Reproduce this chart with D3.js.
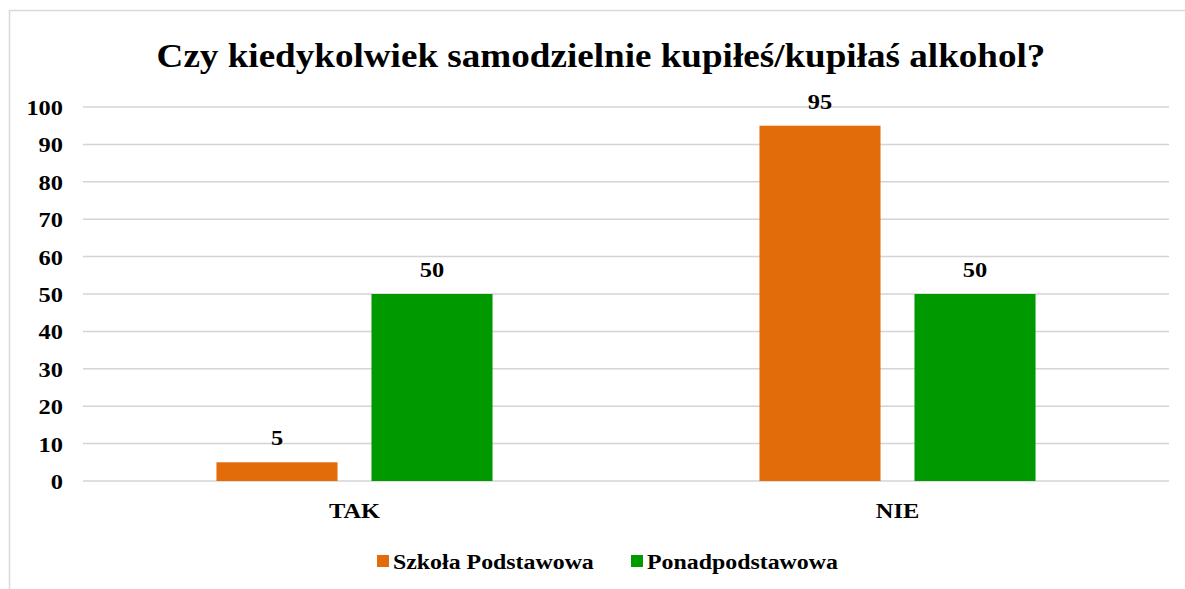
<!DOCTYPE html>
<html>
<head>
<meta charset="utf-8">
<script src="https://cdn.jsdelivr.net/npm/d3@7"></script>
<style>
  body { margin: 0; background: #fff; }
  text { font-family: "Liberation Serif", "Times New Roman", serif; font-weight: bold; fill: #000; }
</style>
</head>
<body>
<div id="chart"></div>
<script>
// data
const categories = ["TAK", "NIE"];
const seriesNames = ["Szkoła Podstawowa", "Ponadpodstawowa"];
const seriesColors = ["#e36c0a", "#009900"];
const szkolaPodstawowa = [5, 95];
const ponadpodstawowa = [50, 50];
const yTicks = [0, 10, 20, 30, 40, 50, 60, 70, 80, 90, 100];
const title = "Czy kiedykolwiek samodzielnie kupiłeś/kupiłaś alkohol?";

const W = 1185, H = 589;
const margin = { top: 107, right: 16, bottom: 108, left: 83 },
    width = W - margin.left - margin.right,
    height = H - margin.top - margin.bottom;

// the original chart is a bit stretched sideways, so text is too
const stretch = 1.11;

const svg = d3.select("#chart")
    .append("svg")
    .attr("width", W)
    .attr("height", H);

// chart frame
svg.append("rect")
    .attr("x", 9.5).attr("y", 10.5)
    .attr("width", W).attr("height", H)
    .attr("fill", "none")
    .attr("stroke", "#d9d9d9")
    .attr("stroke-width", 1.5);

svg.append("text")
    .attr("transform", `translate(601, 67) scale(1.125, 1)`)
    .attr("text-anchor", "middle")
    .style("font-size", "33px")
    .text(title);

const g = svg.append("g")
    .attr("transform", `translate(${margin.left}, ${margin.top})`);

const x = d3.scaleBand()
    .domain(categories)
    .range([0, width]);

const x1 = d3.scaleBand()
    .domain(seriesNames)
    .range([0, x.bandwidth()])
    .paddingInner(0.219)
    .paddingOuter(0.861);

const y = d3.scaleLinear()
    .domain([0, 100])
    .range([height, 0]);

// gridlines
g.append("g")
    .selectAll("line")
    .data(yTicks)
    .join("line")
    .attr("x1", 0)
    .attr("x2", width)
    .attr("y1", d => y(d))
    .attr("y2", d => y(d))
    .attr("stroke", "#d4d4d4")
    .attr("stroke-width", 1.5);

// y axis labels
const yAxis = g.append("g")
    .call(d3.axisLeft(y).tickValues(yTicks).tickSize(0).tickPadding(20 / stretch));
yAxis.select(".domain").remove();
yAxis.selectAll("text")
    .style("font-size", "22px")
    .style("font-family", "'Liberation Serif', serif")
    .attr("dy", "0.34em")
    .attr("transform", `scale(${stretch}, 1)`);

// x axis labels
const xAxis = g.append("g")
    .attr("transform", `translate(0, ${height})`)
    .call(d3.axisBottom(x).tickSize(0).tickPadding(21));
xAxis.select(".domain").remove();
xAxis.selectAll("text")
    .style("font-size", "22px")
    .style("font-family", "'Liberation Serif', serif")
    .attr("transform", `scale(${stretch}, 1)`);

const items = [];
categories.forEach((c, i) => {
    items.push({ cat: c, series: seriesNames[0], value: szkolaPodstawowa[i], color: seriesColors[0] });
    items.push({ cat: c, series: seriesNames[1], value: ponadpodstawowa[i], color: seriesColors[1] });
});

g.selectAll(".bar")
    .data(items)
    .join("rect")
    .attr("class", "bar")
    .attr("x", d => x(d.cat) + x1(d.series))
    .attr("y", d => y(d.value))
    .attr("width", x1.bandwidth())
    .attr("height", d => height - y(d.value))
    .attr("fill", d => d.color);

g.selectAll(".lbl")
    .data(items)
    .join("text")
    .attr("class", "lbl")
    .attr("transform", d => `translate(${x(d.cat) + x1(d.series) + x1.bandwidth() / 2}, ${y(d.value) - 17}) scale(${stretch}, 1)`)
    .attr("text-anchor", "middle")
    .style("font-size", "22px")
    .text(d => d.value);

// legend
const legendX = [377, 631];
const legend = svg.append("g")
    .selectAll("g")
    .data(seriesNames)
    .join("g")
    .attr("transform", (d, i) => `translate(${legendX[i]}, 555)`);
legend.append("rect")
    .attr("width", 12).attr("height", 12)
    .attr("fill", (d, i) => seriesColors[i]);
legend.append("text")
    .attr("transform", `translate(16, 14) scale(${stretch}, 1)`)
    .style("font-size", "21.5px")
    .text(d => d);
</script>
</body>
</html>
